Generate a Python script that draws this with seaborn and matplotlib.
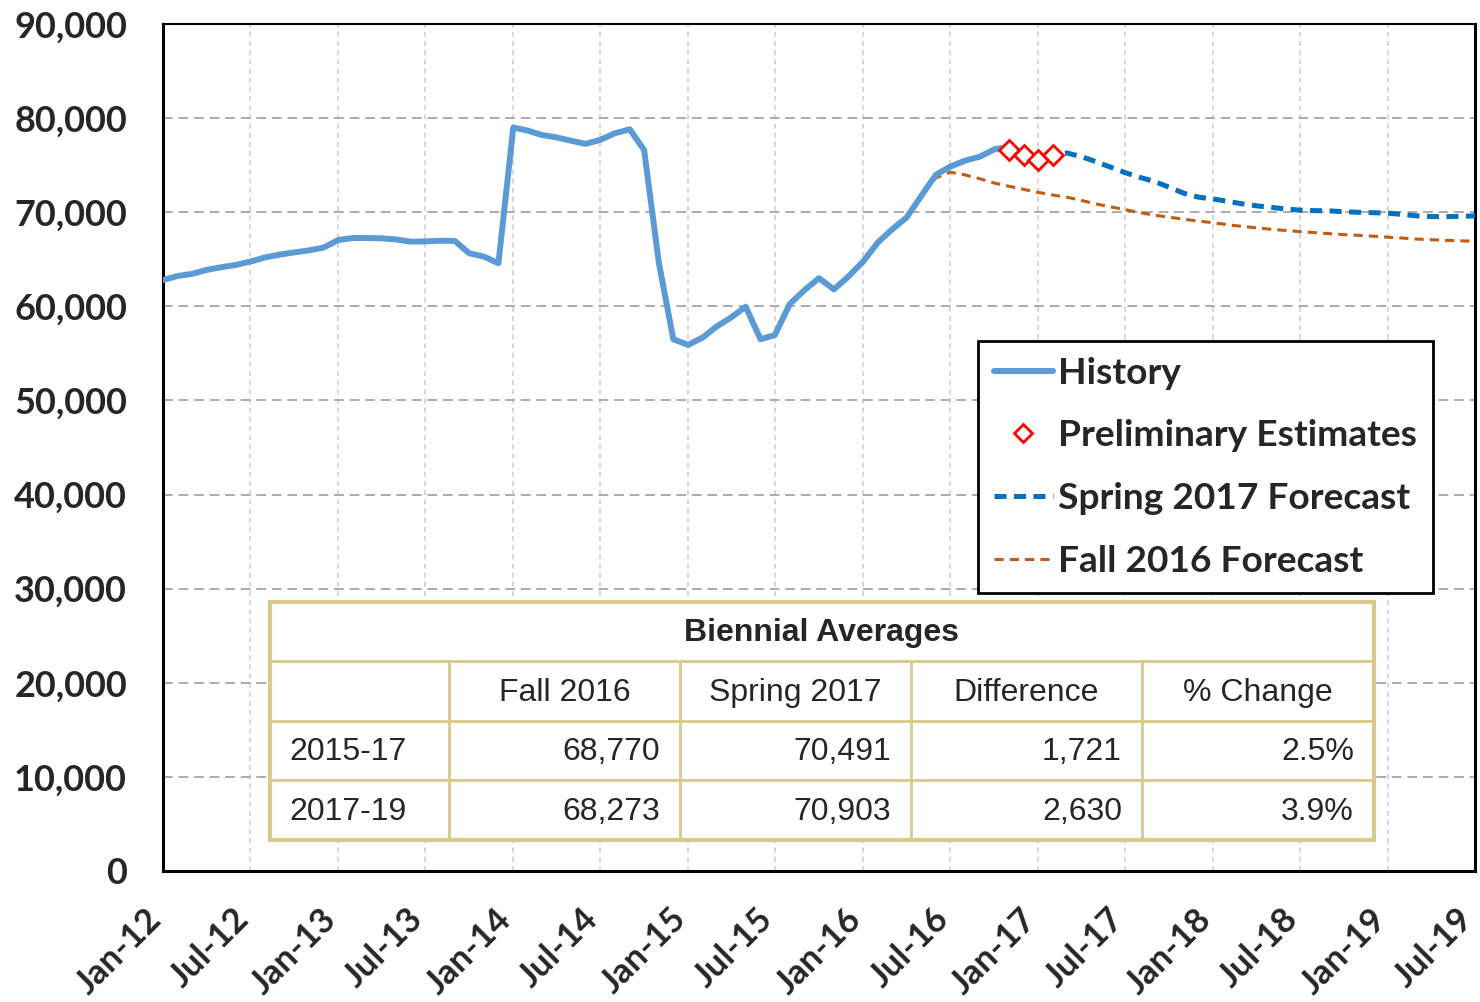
import numpy as np
import pandas as pd
import matplotlib
matplotlib.use('Agg')
import matplotlib.pyplot as plt
import matplotlib.dates as mdates
import matplotlib.ticker as mticker
from matplotlib.patches import Rectangle
from matplotlib.lines import Line2D
import seaborn as sns

# -----------------------
# data (monthly values)

history = [62800, 63230, 63440, 63870, 64150, 64400,
	64750, 65200, 65500, 65730, 65950, 66240,
	67050, 67260, 67260, 67230, 67110, 66870,
	66900, 66970, 66950, 65640, 65280, 64580,
	79000, 78660, 78210, 77960, 77600, 77260,
	77680, 78390, 78810, 76620, 64580, 56500,
	55900, 56710, 57840, 58830, 59960, 56500,
	56960, 60250, 61740, 62990, 61800, 63150,
	64750, 66800, 68150, 69450, 71700, 73980,
	74850, 75480, 75910, 76690, 76950]
history_start = '2012-01-01'

prelim = [76650, 76120, 75550, 76120]
prelim_start = '2016-11-01'

spring_2017 = [76650, 76120, 75550, 76120, 76300, 75900,
	75370, 74780, 74200, 73700, 73250, 72650,
	72000, 71600, 71400, 71150, 70900, 70680,
	70520, 70350, 70220, 70170, 70140, 70050,
	69990, 69950, 69900, 69750, 69620, 69540,
	69530, 69560, 69610]
spring_start = '2016-11-01'

fall_2016 = [69450, 71800, 73650, 74250, 73960, 73550,
	73100, 72750, 72430, 72100, 71820, 71600,
	71250, 70880, 70570, 70270, 69950, 69680,
	69470, 69250, 69060, 68880, 68660, 68500,
	68340, 68190, 68060, 67940, 67830, 67720,
	67620, 67540, 67450, 67340, 67250, 67150,
	67080, 67010, 66960, 66920]
fall_start = '2016-04-01'

table_title = 'Biennial Averages'
table_header = ['', 'Fall 2016', 'Spring 2017', 'Difference', '% Change']
table_periods = ['2015-17', '2017-19']
avg_fall = [68770, 68273]
avg_spring = [70491, 70903]
avg_diff = [1721, 2630]
avg_pct = [2.5, 3.9]

# -----------------------

def series(vals, start):
	return pd.DataFrame({'date': pd.date_range(start, periods=len(vals), freq='MS'),
		'value': vals})

df_hist = series(history, history_start)
df_prelim = series(prelim, prelim_start)
df_spring = series(spring_2017, spring_start)
df_fall = series(fall_2016, fall_start)

sns.set_style('white')
plt.rcParams['font.family'] = ['Lato', 'DejaVu Sans']

W, H = 1480, 1002
fig = plt.figure(figsize=(W / 100, H / 100), dpi=100)
ax = fig.add_axes([163 / W, 1 - 871 / H, (1475 - 163) / W, (871 - 24) / H])

def fx(x): return x / W
def fy(y): return 1 - y / H

c_hist = '#5B9BD5'
c_spring = '#0070C0'
c_fall = '#C55A11'
ls_spring = (0, (2.4, 1.5))
ls_fall = (0, (3.0, 2.0))

sns.lineplot(data=df_fall, x='date', y='value', ax=ax, color=c_fall, lw=2.2,
	linestyle=ls_fall, label='Fall 2016 Forecast', zorder=3)
sns.lineplot(data=df_hist, x='date', y='value', ax=ax, color=c_hist, lw=4.3,
	label='History', zorder=4)
sns.lineplot(data=df_spring, x='date', y='value', ax=ax, color=c_spring, lw=3.6,
	linestyle=ls_spring, label='Spring 2017 Forecast', zorder=5)
sns.lineplot(data=df_prelim, x='date', y='value', ax=ax, color='red', lw=0,
	marker='D', markersize=10, markerfacecolor='white', markeredgecolor='red',
	markeredgewidth=2, label='Preliminary Estimates', zorder=6)

ax.set_xlim(pd.Timestamp('2012-01-01'), pd.Timestamp('2019-07-01'))
ax.set_ylim(0, 90000)
ax.set(xlabel=None, ylabel=None)

ax.xaxis.set_major_locator(mdates.MonthLocator(bymonth=[1, 7]))
ax.xaxis.set_minor_locator(mdates.MonthLocator(bymonth=[1, 4, 7, 10]))
ax.xaxis.set_major_formatter(mdates.DateFormatter('%b-%y'))
ax.yaxis.set_major_locator(mticker.MultipleLocator(10000))
ax.yaxis.set_major_formatter(mticker.FuncFormatter(lambda v, p: '{:,.0f}'.format(v)))

ax.tick_params(axis='x', which='major', direction='inout', length=18, width=2,
	color='black', pad=27, labelsize=25)
ax.tick_params(axis='x', which='minor', direction='in', length=6, width=2, color='black')
ax.tick_params(axis='y', which='major', length=0, pad=26, labelsize=26)
for lbl in ax.get_xticklabels():
	lbl.set_rotation(45)
	lbl.set_ha('right')
	lbl.set_va('baseline')
	lbl.set_rotation_mode('anchor')
	lbl.set_fontweight('bold')
for lbl in ax.get_yticklabels():
	lbl.set_fontweight('bold')

ax.set_axisbelow(True)
ax.yaxis.grid(True, ls=(0, (5, 3)), color='#ABABAB', lw=1.4)
ax.xaxis.grid(True, which='major', ls=(0, (3, 2.5)), color='#CFCFCF', lw=1.2)

for side in ['left', 'bottom', 'right']:
	ax.spines[side].set_color('black')
	ax.spines[side].set_linewidth(2.2)
ax.spines['top'].set_color('black')
ax.spines['top'].set_linewidth(1.5)

# legend
handles = [
	Line2D([], [], color=c_hist, lw=4.3, solid_capstyle='round'),
	Line2D([], [], color='red', lw=0, marker='D', markersize=9,
		markerfacecolor='white', markeredgewidth=2),
	Line2D([], [], color=c_spring, lw=3.6, linestyle=ls_spring),
	Line2D([], [], color=c_fall, lw=2.2, linestyle=ls_fall),
]
labels = ['History', 'Preliminary Estimates', 'Spring 2017 Forecast', 'Fall 2016 Forecast']
leg = ax.legend(handles, labels, loc='upper left', bbox_to_anchor=(fx(978), fy(341)),
	bbox_transform=fig.transFigure, borderaxespad=0, frameon=True, fancybox=False,
	framealpha=1, edgecolor='black', handlelength=1.6, handletextpad=0.15,
	labelspacing=0.8, borderpad=0.42, prop={'family': 'Lato', 'weight': 'bold', 'size': 26.7})
leg.get_frame().set_linewidth(2)
leg.set_zorder(10)

# table of biennial averages
tan = '#D9C98A'
col_edges = [270, 449, 680, 911, 1142, 1374]
row_edges = [602, 661, 721, 780, 840]
tfont = ['Liberation Sans', 'DejaVu Sans']

fig.add_artist(Rectangle((fx(270), fy(840)), fx(1374) - fx(270), fy(602) - fy(840),
	transform=fig.transFigure, facecolor='white', edgecolor=tan, lw=3, zorder=20))
for y in row_edges[1:-1]:
	fig.add_artist(Line2D([fx(270), fx(1374)], [fy(y), fy(y)], color=tan, lw=2, zorder=21))
for x in col_edges[1:-1]:
	fig.add_artist(Line2D([fx(x), fx(x)], [fy(661), fy(840)], color=tan, lw=2, zorder=21))

fig.text(fx(822), fy(633), table_title, ha='center', va='center', fontsize=23,
	fontweight='bold', family=tfont, zorder=22)
for i, h in enumerate(table_header):
	xc = (col_edges[i] + col_edges[i + 1]) / 2
	fig.text(fx(xc), fy(693), h, ha='center', va='center', fontsize=23,
		family=tfont, zorder=22)

for r, period in enumerate(table_periods):
	yc = (row_edges[r + 2] + row_edges[r + 3]) / 2 + 2
	fig.text(fx(289), fy(yc), period, ha='left', va='center', fontsize=23,
		family=tfont, zorder=22)
	cells = ['{:,}'.format(avg_fall[r]), '{:,}'.format(avg_spring[r]),
		'{:,}'.format(avg_diff[r]), '{:.1f}%'.format(avg_pct[r])]
	for c, txt in enumerate(cells):
		fig.text(fx(col_edges[c + 2] - 20), fy(yc), txt, ha='right', va='center',
			fontsize=23, family=tfont, zorder=22)

plt.savefig('out.png', dpi=100)
